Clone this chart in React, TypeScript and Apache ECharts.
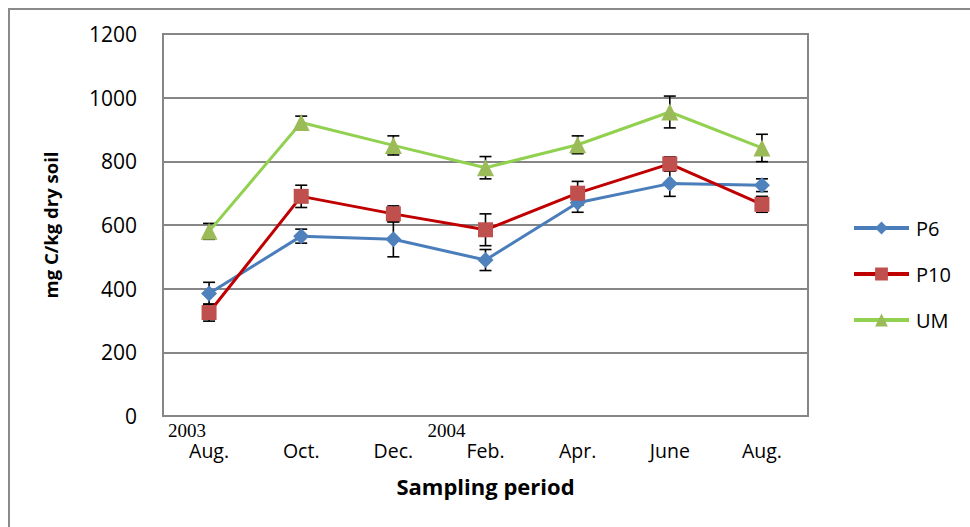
import React, { useEffect, useRef } from "react";
import * as echarts from "echarts";

const months = ["Aug.", "Oct.", "Dec.", "Feb.", "Apr.", "June", "Aug."];
const years = ["2003", "", "", "2004", "", "", ""];
const yearShift = [44, 0, 0, 78, 0, 0, 0];

const p6 = [385, 565, 555, 490, 670, 730, 725];
const p6Err = [35, 22, 55, 33, 30, 40, 20];
const p10 = [325, 690, 635, 585, 700, 792, 665];
const p10Err = [27, 35, 25, 50, 37, 22, 25];
const um = [580, 922, 850, 780, 852, 955, 842];
const umErr = [25, 20, 30, 35, 28, 50, 43];

const FONT = "'Open Sans', sans-serif";

function errSeries(vals: number[], errs: number[]) {
  return {
    type: "custom",
    z: 1,
    silent: true,
    encode: { x: 0, y: [1, 2] },
    data: vals.map((v, i) => [i, v - errs[i], v + errs[i]]),
    renderItem: (params: any, api: any) => {
      const lo = api.coord([api.value(0), api.value(1)]);
      const hi = api.coord([api.value(0), api.value(2)]);
      const w = 6;
      const style = { stroke: "#000", lineWidth: 1.6 };
      return {
        type: "group",
        children: [
          { type: "line", shape: { x1: lo[0], y1: lo[1], x2: hi[0], y2: hi[1] }, style },
          { type: "line", shape: { x1: lo[0] - w, y1: lo[1], x2: lo[0] + w, y2: lo[1] }, style },
          { type: "line", shape: { x1: hi[0] - w, y1: hi[1], x2: hi[0] + w, y2: hi[1] }, style },
        ],
      };
    },
  };
}

const rich: Record<string, any> = {
  m: { fontFamily: FONT, fontSize: 19.5, lineHeight: 20, color: "#000" },
};
years.forEach((_, i) => {
  rich["y" + i] = {
    fontFamily: "'Liberation Serif', serif",
    fontSize: 19,
    lineHeight: 19,
    color: "#000",
    padding: [0, yearShift[i], 0, 0],
  };
});

export default function App() {
  const ref = useRef<HTMLDivElement>(null);
  useEffect(() => {
    const chart = echarts.init(ref.current!, null, { renderer: "svg" });
    chart.setOption({
      animation: false,
      backgroundColor: "#fff",
      graphic: [
        {
          type: "rect",
          shape: { x: 9, y: 9, width: 990, height: 560 },
          style: { fill: "none", stroke: "#8a8a8a", lineWidth: 2 },
          silent: true,
        },
      ],
      grid: {
        left: 163,
        top: 34,
        right: 162,
        bottom: 111,
        show: true,
        borderColor: "#868686",
        borderWidth: 2,
      },
      legend: {
        orient: "vertical",
        left: 847,
        top: 213,
        itemWidth: 55,
        itemHeight: 16,
        itemGap: 26,
        data: ["P6", "P10", "UM"],
        lineStyle: { width: 4 },
        textStyle: { fontFamily: FONT, fontSize: 20, color: "#000", padding: [0, 0, 0, 2] },
      },
      xAxis: {
        type: "category",
        data: months,
        boundaryGap: true,
        axisLine: { show: false },
        axisTick: { show: false },
        axisLabel: {
          interval: 0,
          margin: 5,
          formatter: (v: string, i: number) => `{y${i}|${years[i] || " "}}\n{m|${v}}`,
          rich,
        },
        name: "Sampling period",
        nameLocation: "middle",
        nameGap: 59,
        nameTextStyle: { fontFamily: FONT, fontSize: 22, fontWeight: "bold", color: "#000" },
      },
      yAxis: {
        type: "value",
        min: 0,
        max: 1200,
        interval: 200,
        axisLine: { show: false },
        axisTick: { show: false },
        splitLine: { lineStyle: { color: "#868686", width: 2 } },
        axisLabel: {
          fontFamily: FONT,
          fontSize: 21,
          color: "#000",
          margin: 26,
          formatter: (v: number) => String(v),
        },
        name: "mg C/kg dry soil",
        nameLocation: "middle",
        nameGap: 103,
        nameTextStyle: { fontFamily: FONT, fontSize: 18.5, fontWeight: "bold", color: "#000" },
      },
      series: [
        errSeries(p6, p6Err),
        errSeries(p10, p10Err),
        errSeries(um, umErr),
        {
          name: "P6",
          type: "line",
          z: 3,
          data: p6,
          symbol: "diamond",
          symbolSize: 16,
          lineStyle: { color: "#4A7EBB", width: 3 },
          itemStyle: { color: "#4F81BD" },
        },
        {
          name: "P10",
          type: "line",
          z: 3,
          data: p10,
          symbol: "rect",
          symbolSize: 15,
          lineStyle: { color: "#C00000", width: 3 },
          itemStyle: { color: "#C0504D" },
        },
        {
          name: "UM",
          type: "line",
          z: 3,
          data: um,
          symbol: "triangle",
          symbolSize: 17,
          lineStyle: { color: "#92D050", width: 3 },
          itemStyle: { color: "#9BBB59" },
        },
      ],
    });
    return () => chart.dispose();
  }, []);
  return (
    <div
      ref={ref}
      style={{ position: "fixed", left: 0, top: 0, width: 970, height: 527 }}
    />
  );
}
